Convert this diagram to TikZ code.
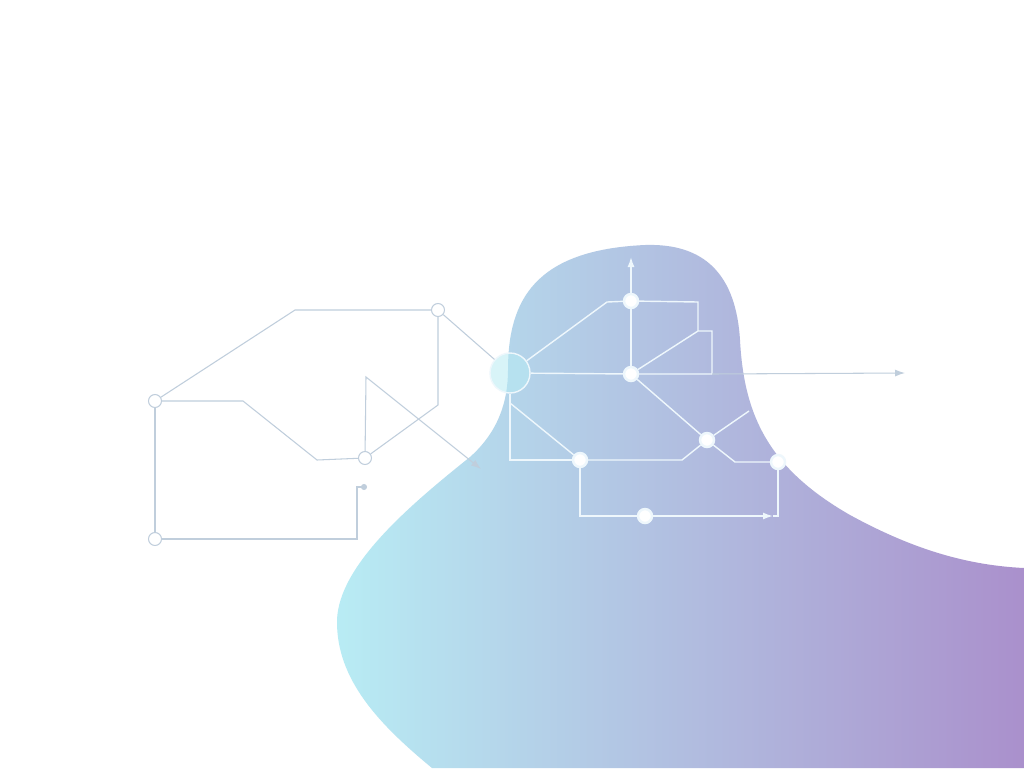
\documentclass[tikz,border=0pt]{standalone}
\usetikzlibrary{arrows.meta,calc}

\definecolor{blobcyan}{RGB}{184,236,244}
\definecolor{blobmid}{RGB}{174,196,224}
\definecolor{blobviolet}{RGB}{170,144,204}
\definecolor{wirecol}{RGB}{192,206,220}
\definecolor{glowcol}{RGB}{238,247,252}

\begin{document}
\begin{tikzpicture}[x=0.02cm, y=-0.02cm,
    wire/.style={draw=wirecol, line width=0.6pt},
    lite/.style={draw=glowcol, line width=0.8pt},
    tip/.style={-{Latex[length=2mm,width=1.4mm]}},
    hub/.style={circle, draw=wirecol, fill=white, line width=0.6pt, minimum size=0.26cm, inner sep=0pt},
    port/.style={circle, draw=glowcol, fill=white, line width=1.4pt, minimum size=0.28cm, inner sep=0pt},
    core/.style={circle, draw=glowcol, fill=blobcyan, fill opacity=0.55, line width=0.8pt, minimum size=0.8cm, inner sep=0pt}
]

    % fond et forme
    \fill[white] (0,0) rectangle (1024,768);
    \useasboundingbox (0,0) rectangle (1024,768);
    \shade[left color=blobcyan, middle color=blobmid, right color=blobviolet]
        (432,768) .. controls (380,725) and (336,680) .. (337,620)
        .. controls (339,565) and (410,505) .. (470,457)
        .. controls (498,432) and (508,402) .. (508,370)
        .. controls (508,300) and (535,250) .. (645,245)
        .. controls (705,243) and (736,275) .. (740,340)
        .. controls (744,415) and (768,468) .. (850,515)
        .. controls (905,545) and (960,565) .. (1024,568)
        -- (1024,768) -- cycle;

    % noeuds de gauche
    \node[hub] (A) at (155,401) {};
    \node[hub] (B) at (438,310) {};
    \node[hub] (C) at (365,458) {};
    \node[hub] (D) at (155,539) {};

    % noeuds de droite
    \node[core] (E) at (510,373) {};
    \node[port] (F) at (631,301) {};
    \node[port] (G) at (631,374) {};
    \node[port] (H) at (707,440) {};
    \node[port] (I) at (580,460) {};
    \node[port] (J) at (778,462) {};
    \node[port] (K) at (645,516) {};

    % extremites libres
    \coordinate (tipX) at (481,469);
    \coordinate (tipD) at (367,487);
    \coordinate (tipF) at (631,257);
    \coordinate (joint) at (712,374);
    \coordinate (tipG) at (905,373);
    \coordinate (endH) at (749,411);
    \coordinate (tipK) at (773,516);

    % liaisons de gauche
    \draw[wire] (A) -- (295,310) -- (B);
    \draw[wire] (A) -- (243,401) -- (317,460) -- (C);
    \draw[wire] (C) -- (438,405) -- (B);
    \draw[wire, tip] (C) -- (366,377) -- (tipX);
    \draw[wire] (D) -- (A);
    \draw[wire, -{Circle[length=1.2mm]}] (D) -- (357,539) -- (357,487) -- (tipD);
    \draw[wire] (B) -- (E);

    % liaisons de droite
    \draw[lite] (E) -- (607,302) -- (F);
    \draw[lite] (F) -- (698,302) -- (698,331) -- (712,331) -- (joint);
    \draw[lite] (G) -- (698,331);
    \draw[lite, tip] (F) -- (tipF);
    \draw[lite] (F) -- (G);
    \draw[lite] (E) -- (G) -- (joint);
    \draw[wire, tip] (joint) -- (tipG);
    \draw[lite] (G) -- (H);
    \draw[lite] (H) -- (endH);
    \draw[lite] (H) -- (735,462) -- (J);
    \draw[lite] (E.south) -- (510,460) -- (I);
    \draw[lite] (510,403) -- (I);
    \draw[lite] (I) -- (682,460) -- (H);
    \draw[lite] (I) -- (580,516) -- (K);
    \draw[lite, tip] (K) -- (tipK);
    \draw[lite] (J) -- (778,516) -- (tipK);

\end{tikzpicture}
\end{document}
